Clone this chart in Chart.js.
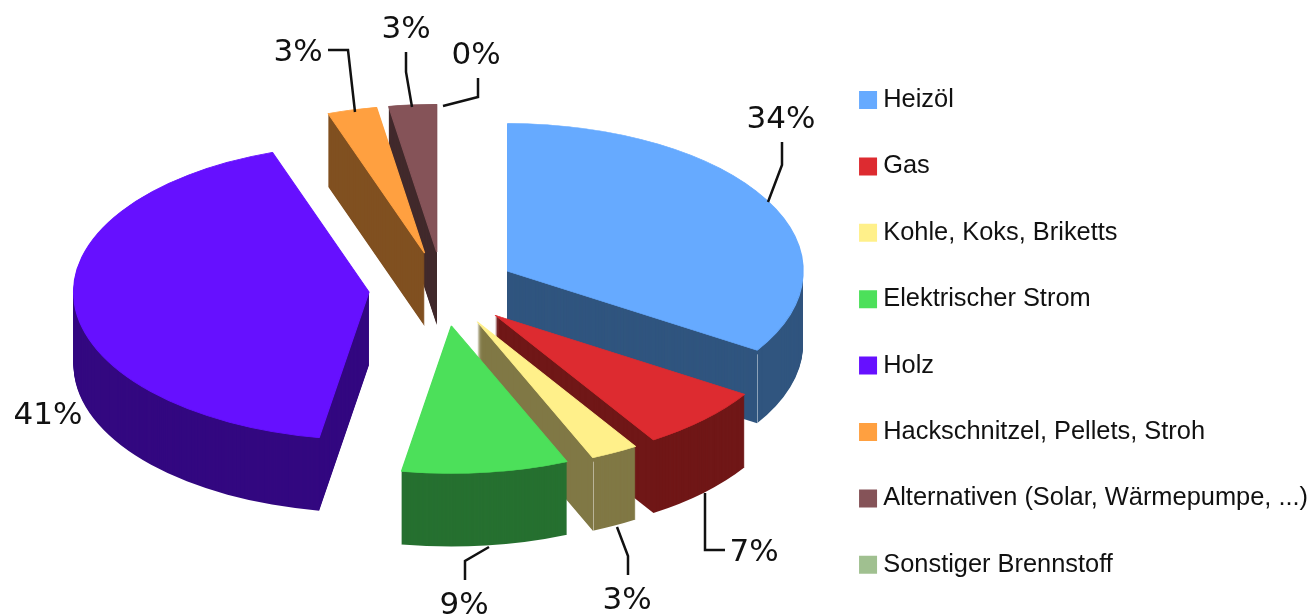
<!DOCTYPE html>
<html><head><meta charset="utf-8">
<style>html,body{margin:0;padding:0;background:#fff;overflow:hidden}canvas{display:block;filter:blur(0.45px)}</style>
<script src="https://cdn.jsdelivr.net/npm/chart.js@4"></script>
</head><body>
<canvas id="c" width="1309" height="614"></canvas>
<script>
const categories = ["Heizöl","Gas","Kohle, Koks, Briketts","Elektrischer Strom","Holz","Hackschnitzel, Pellets, Stroh","Alternativen (Solar, Wärmepumpe, ...)","Sonstiger Brennstoff"];
const shares = [34, 7, 2.6, 9.1, 42, 2.7, 2.6, 0];
const percentLabels = ["34%","7%","3%","9%","41%","3%","3%","0%"];
const topColors = ["#66aaff","#dd2b30","#fff08a","#4ce05a","#6610ff","#ffa040","#855358","#a0c090"];
const sideColors = ["#30557f","#701717","#807845","#267030","#330880","#805020","#422a2c","#506048"];
// annotation layout: label anchor and leader polyline for each category
const labelAnchors = [[781,120],[754,553],[627,601],[464,606],[48,416],[298,53],[406,30],[476,56]];
const leaderPaths = [
  [[768,202],[782,165],[782,142]],
  [[705,493],[705,550],[725,550]],
  [[617,527],[628,556],[628,575]],
  [[489,547],[465,561],[465,580]],
  [],
  [[355,112],[348,50],[328,50]],
  [[412,107],[406,72],[406,52]],
  [[443,106],[478,97],[478,78]]
];
const SQUASH = 0.5, DEPTH = 73, CENTER_Y = 289, RADIUS = 295.5, EXPLODE = 74;

const pie3d = {
  id: 'pie3d',
  beforeDatasetsDraw(chart) {
    const ctx = chart.ctx;
    const arcs = chart.getDatasetMeta(0).data.map((a, i) => ({a, i}))
      .filter(o => o.a.circumference > 0)
      .sort((p, q) => Math.sin((p.a.startAngle + p.a.endAngle) / 2) - Math.sin((q.a.startAngle + q.a.endAngle) / 2));
    for (const {a, i} of arcs) {
      const mid = (a.startAngle + a.endAngle) / 2;
      const top = Object.create(a);
      top.options = Object.assign({}, a.options, {borderWidth: 1.2, borderColor: topColors[i], borderAlign: 'center'});
      const side = Object.create(a);
      side.options = Object.assign({}, a.options, {backgroundColor: sideColors[i]});
      const place = dy => {
        ctx.setTransform(1, 0, 0, SQUASH, 0, CENTER_Y + dy - SQUASH * a.y);
        ctx.translate(Math.cos(mid) * EXPLODE, Math.sin(mid) * EXPLODE);
      };
      ctx.save();
      for (let dy = DEPTH; dy > 0; dy--) { place(dy); side.draw(ctx); }
      ctx.restore();
      if (i === 0 || i === 2) {
        const x = a.x + Math.cos(mid) * EXPLODE + Math.cos(a.endAngle) * RADIUS;
        const y = CENTER_Y + SQUASH * (Math.sin(mid) * EXPLODE + Math.sin(a.endAngle) * RADIUS);
        ctx.save();
        ctx.strokeStyle = 'rgba(255,255,255,0.45)';
        ctx.lineWidth = 1;
        ctx.beginPath();
        ctx.moveTo(Math.round(x) + .5, y + 4);
        ctx.lineTo(Math.round(x) + .5, y + DEPTH);
        ctx.stroke();
        ctx.restore();
      }
      ctx.save();
      place(0);
      top.draw(ctx);
      ctx.restore();
    }
    ctx.save();
    ctx.strokeStyle = '#111';
    ctx.lineWidth = 2.5;
    ctx.lineJoin = 'miter';
    leaderPaths.forEach(p => {
      if (!p.length) return;
      ctx.beginPath();
      p.forEach(([x, y], k) => k ? ctx.lineTo(x, y) : ctx.moveTo(x, y));
      ctx.stroke();
    });
    ctx.fillStyle = '#111';
    ctx.font = '31px "DejaVu Sans"';
    ctx.textAlign = 'center';
    ctx.textBaseline = 'middle';
    percentLabels.forEach((t, i) => ctx.fillText(t, labelAnchors[i][0], labelAnchors[i][1]));
    ctx.restore();
    return false;
  }
};

new Chart(document.getElementById('c'), {
  type: 'pie',
  data: {
    labels: categories,
    datasets: [{ data: shares, backgroundColor: topColors, borderWidth: 0 }]
  },
  options: {
    responsive: false,
    animation: false,
    radius: RADIUS,
    layout: { padding: { left: 61, right: -9, top: 0, bottom: -4.5 } },
    plugins: {
      tooltip: { enabled: false },
      legend: {
        position: 'right',
        align: 'end',
        labels: {
          usePointStyle: true,
          pointStyle: 'rect',
          boxWidth: 5,
          boxHeight: 18,
          padding: 41,
          color: '#111',
          font: { family: '"Liberation Sans"', size: 25.4 }
        }
      }
    }
  },
  plugins: [pie3d]
});
</script>
</body></html>
